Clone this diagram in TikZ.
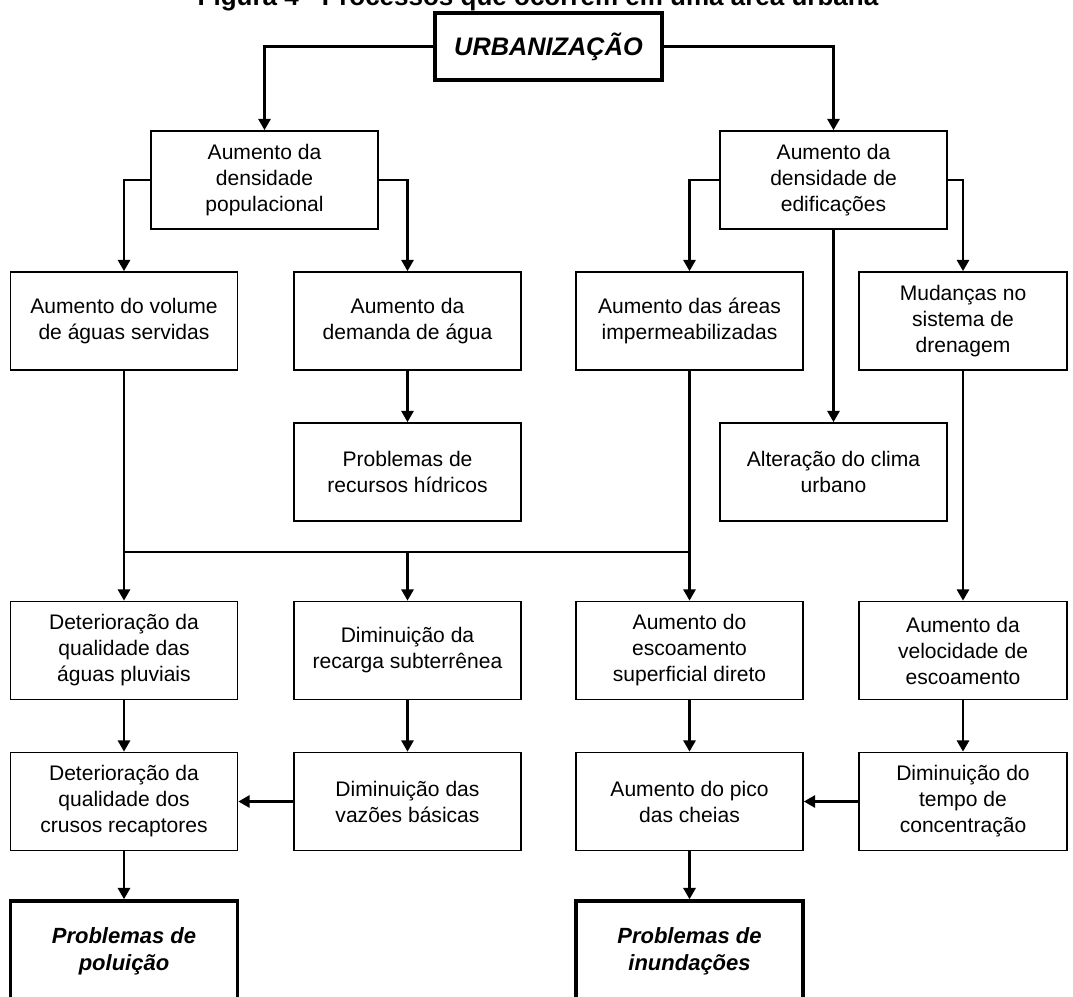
\documentclass[tikz,border=0pt]{standalone}
\usepackage{fontspec}
\setmainfont{Liberation Sans}
\usepackage{tikz}
\usetikzlibrary{arrows.meta}

\begin{document}
\begin{tikzpicture}[x=0.75pt,y=-0.75pt,
            caixa/.style={draw,line width=1.2pt,minimum width=170.25pt,minimum height=73.5pt,inner sep=0pt,align=center,font=\fontsize{15.8}{19.5}\selectfont},
            estreita/.style={caixa,minimum width=156pt},
            forte/.style={caixa,line width=2.6pt,minimum height=75pt,font=\fontsize{16.5}{20}\selectfont\bfseries\itshape},
            linha/.style={line width=2.2pt},
            seta/.style={line width=2.2pt,-{Triangle[length=8.5pt,width=9pt]}}]
            \useasboundingbox (0,0) rectangle (1073,996);
            \node[anchor=base,font=\fontsize{19.5}{22}\selectfont\bfseries] (titulo) at (538,5) {Figura 4 - Processos que ocorrem em uma área urbana};
            \node[forte,minimum height=50.25pt,font=\fontsize{19}{21}\selectfont\bfseries\itshape] (urb) at (548.5,46.5) {URBANIZAÇÃO};
            \node[caixa] (pop) at (264.5,180) {Aumento da\\densidade\\populacional};
            \node[caixa] (edif) at (833.5,180) {Aumento da\\densidade de\\edificações};
            \node[caixa] (volume) at (124,321) {Aumento do volume\\de águas servidas};
            \node[caixa] (demanda) at (407.5,321) {Aumento da\\demanda de água};
            \node[caixa] (areas) at (689.5,321) {Aumento das áreas\\impermeabilizadas};
            \node[estreita] (drenagem) at (963,321) {Mudanças no\\sistema de\\drenagem};
            \node[caixa] (recursos) at (407.5,472) {Problemas de\\recursos hídricos};
            \node[caixa] (clima) at (833.5,472) {Alteração do clima\\urbano};
            \node[caixa] (pluviais) at (124,650.5) {Deterioração da\\qualidade das\\águas pluviais};
            \node[caixa] (recarga) at (407.5,650.5) {Diminuição da\\recarga subterrênea};
            \node[caixa] (escoamento) at (689.5,650.5) {Aumento do\\escoamento\\superficial direto};
            \node[estreita] (velocidade) at (963,650.5) {Aumento da\\velocidade de\\escoamento};
            \node[caixa] (receptores) at (124,801.5) {Deterioração da\\qualidade dos\\crusos recaptores};
            \node[caixa] (vazoes) at (407.5,801.5) {Diminuição das\\vazões básicas};
            \node[caixa] (pico) at (689.5,801.5) {Aumento do pico\\das cheias};
            \node[estreita] (tempo) at (963,801.5) {Diminuição do\\tempo de\\concentração};
            \node[forte] (poluicao) at (124,951) {Problemas de\\poluição};
            \node[forte] (inundacoes) at (689.5,951) {Problemas de\\inundações};
            \coordinate (juncao) at (407.5,552);
            \draw[seta] (urb.west) -| (pop.north);
            \draw[seta] (urb.east) -| (edif.north);
            \draw[seta] (pop.west) -| (volume.north);
            \draw[seta] (pop.east) -| (demanda.north);
            \draw[seta] (edif.west) -| (areas.north);
            \draw[seta] (edif.east) -| (drenagem.north);
            \draw[seta] (edif.south) -- (clima.north);
            \draw[seta] (demanda.south) -- (recursos.north);
            \draw[seta] (volume.south) -- (pluviais.north);
            \draw[seta] (areas.south) -- (escoamento.north);
            \draw[linha] (volume.south |- juncao) -- (areas.south |- juncao);
            \draw[seta] (juncao) -- (recarga.north);
            \draw[seta] (drenagem.south) -- (velocidade.north);
            \draw[seta] (pluviais.south) -- (receptores.north);
            \draw[seta] (recarga.south) -- (vazoes.north);
            \draw[seta] (escoamento.south) -- (pico.north);
            \draw[seta] (velocidade.south) -- (tempo.north);
            \draw[seta] (vazoes.west) -- (receptores.east);
            \draw[seta] (tempo.west) -- (pico.east);
            \draw[seta] (receptores.south) -- (poluicao.north);
            \draw[seta] (pico.south) -- (inundacoes.north);
        \end{tikzpicture}
\end{document}
